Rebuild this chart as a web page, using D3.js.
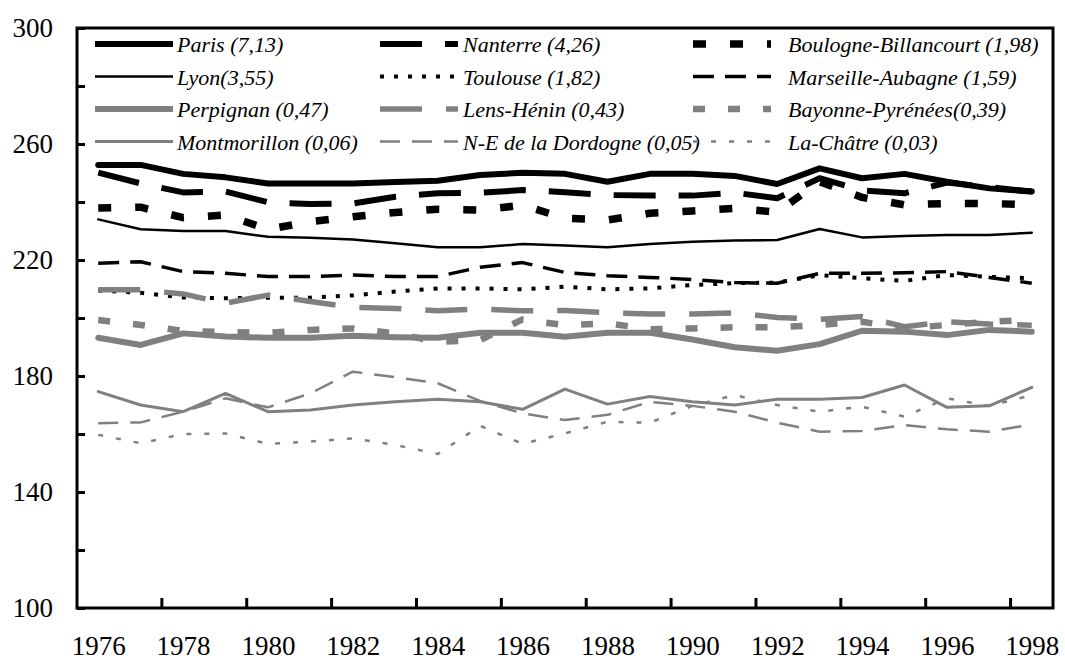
<!DOCTYPE html>
<html>
<head>
  <meta charset="UTF-8">
  <title>Indices par zone</title>
  <script src="https://d3js.org/d3.v7.min.js"></script>
</head>
<body style="margin:0;background:#fff">
<svg id="chart" width="1065" height="660"></svg>
<script>
  // years on the category axis
  const years = d3.range(1976, 1999);
  const yTicks = [100, 120, 140, 160, 180, 200, 220, 240, 260, 280, 300];

  // series, in the order of the legend
  const names = [
    'Paris (7,13)', 'Nanterre (4,26)', 'Boulogne-Billancourt (1,98)',
    'Lyon(3,55)', 'Toulouse (1,82)', 'Marseille-Aubagne (1,59)',
    'Perpignan (0,47)', 'Lens-Hénin (0,43)', 'Bayonne-Pyrénées(0,39)',
    'Montmorillon (0,06)', 'N-E de la Dordogne (0,05)', 'La-Châtre (0,03)'
  ];
  const paris = [252.8,252.8,249.7,248.5,246.4,246.4,246.4,246.9,247.3,249.3,250.1,249.7,247.0,249.7,249.7,249.0,246.2,251.6,248.2,249.7,247.0,244.7,243.6];
  const nanterre = [250.1,246.4,243.3,243.6,239.9,239.3,239.5,241.8,243.0,243.2,244.1,243.4,242.4,242.2,242.2,243.2,241.3,248.2,244.0,243.0,246.7,245.1,243.6];
  const boulogne = [237.9,238.2,234.6,235.5,230.6,233.2,234.9,236.4,237.5,237.2,238.9,234.4,233.8,236.1,236.9,237.8,236.5,247.0,241.6,239.0,239.5,239.5,239.0];
  const lyon = [234.0,230.6,230.0,230.0,228.0,227.7,227.1,225.8,224.4,224.4,225.5,225.0,224.4,225.5,226.3,226.7,226.9,230.7,227.8,228.3,228.6,228.6,229.4];
  const toulouse = [209.5,208.7,207.1,206.8,207.0,207.0,207.8,209.1,210.2,210.2,209.9,210.8,209.9,210.2,211.4,212.0,212.2,214.8,213.7,212.8,214.8,214.2,213.7];
  const marseille = [218.9,219.4,216.0,215.4,214.3,214.3,214.8,214.3,214.3,217.5,219.1,215.7,214.6,214.0,213.3,212.2,212.0,215.4,215.4,215.6,216.0,214.0,212.0];
  const perpignan = [193.2,190.7,194.7,193.6,193.2,193.2,193.9,193.4,193.2,194.9,194.9,193.5,194.9,194.9,192.6,189.9,188.7,191.0,195.6,195.3,194.1,195.9,195.3];
  const lens = [209.7,209.7,208.3,205.1,207.9,205.7,203.7,203.3,202.5,203.1,202.5,202.6,201.8,201.4,201.4,201.8,200.2,199.5,200.5,197.0,198.7,197.9,197.5];
  const bayonne = [199.3,197.6,195.5,195.2,194.9,195.9,196.4,194.7,191.8,192.4,199.5,197.5,198.2,196.1,196.4,196.8,196.8,197.6,198.7,196.4,197.6,198.7,199.3];
  const montmorillon = [174.6,170.0,167.7,174.0,167.7,168.3,170.0,171.1,172.0,171.1,168.5,175.5,170.3,172.9,171.1,170.0,172.0,172.0,172.6,176.9,169.2,169.7,176.1];
  const dordogne = [163.7,164.0,167.7,172.3,169.2,174.0,181.5,179.6,177.5,171.4,167.1,164.8,166.6,171.1,169.7,167.7,163.9,160.8,161.0,163.1,161.6,160.8,163.3];
  const lachatre = [159.7,156.8,160.0,160.2,156.6,157.4,158.5,156.2,153.1,162.8,156.6,160.2,164.2,163.9,169.7,173.4,170.0,167.7,169.4,166.0,172.3,169.7,173.4];
  const values = [paris, nanterre, boulogne, lyon, toulouse, marseille, perpignan, lens, bayonne, montmorillon, dordogne, lachatre];

  const BLACK = '#000', GREY = '#808080';
  const styles = [
    { c: BLACK, w: 6,   d: null },
    { c: BLACK, w: 6,   d: '42,23' },
    { c: BLACK, w: 7.5, d: '13,24' },
    { c: BLACK, w: 2.5, d: null },
    { c: BLACK, w: 4,   d: '4,10' },
    { c: BLACK, w: 3.5, d: '21,11' },
    { c: GREY,  w: 6,   d: null },
    { c: GREY,  w: 5.5, d: '42,24' },
    { c: GREY,  w: 6.5, d: '12,23' },
    { c: GREY,  w: 3,   d: null },
    { c: GREY,  w: 2.5, d: '20,12' },
    { c: GREY,  w: 2.5, d: '5,13' }
  ];

  const plot = { left: 77, right: 1053, top: 28, bottom: 608 };
  const svg = d3.select('#chart');

  const x = d3.scalePoint().domain(years).range([plot.left, plot.right]).padding(0.5);
  const y = d3.scaleLinear().domain([100, 300]).range([plot.bottom, plot.top]);
  const step = x.step();

  // series lines
  const line = d3.line().x((d, i) => x(years[i])).y(d => y(d));
  svg.append('g').selectAll('path')
    .data(values)
    .join('path')
    .attr('d', line)
    .attr('fill', 'none')
    .attr('stroke-linejoin', 'round')
    .attr('stroke', (d, i) => styles[i].c)
    .attr('stroke-width', (d, i) => styles[i].w)
    .attr('stroke-dasharray', (d, i) => styles[i].d)
    .attr('stroke-linecap', (d, i) => styles[i].d ? 'butt' : 'round');

  // y axis, ticks inside, labels every 40
  const yAxis = svg.append('g')
    .attr('transform', `translate(${plot.left},0)`)
    .call(d3.axisLeft(y).tickValues(yTicks).tickSize(-8).tickPadding(24)
      .tickFormat(v => (v - 100) % 40 === 0 ? v : ''));

  // x axis labels at category centres
  const xAxis = svg.append('g')
    .attr('transform', `translate(0,${plot.bottom})`)
    .call(d3.axisBottom(x).tickValues(years.filter((v, i) => i % 2 === 0)).tickSize(0).tickPadding(28));

  [yAxis, xAxis].forEach(a => {
    a.select('.domain').remove();
    a.attr('font-family', 'Liberation Serif').attr('font-size', 27);
    a.selectAll('line').attr('stroke', '#000').attr('stroke-width', 3);
    a.selectAll('text')
      .attr('fill', '#000')
      .attr('font-family', 'Liberation Serif')
      .attr('style', "font-family:'Liberation Serif';font-size:27px");
  });

  // x tick marks between categories
  svg.append('g').selectAll('line')
    .data(years.filter((v, i) => i % 2 === 0 && i > 0))
    .join('line')
    .attr('x1', d => x(d) - step / 2).attr('x2', d => x(d) - step / 2)
    .attr('y1', plot.bottom).attr('y2', plot.bottom - 10)
    .attr('stroke', '#000').attr('stroke-width', 3);

  // plot frame
  svg.append('rect')
    .attr('x', plot.left).attr('y', plot.top)
    .attr('width', plot.right - plot.left).attr('height', plot.bottom - plot.top)
    .attr('fill', 'none').attr('stroke', '#000').attr('stroke-width', 3);

  // legend, three columns filled row by row
  const colX = [95, 380, 693];
  const textX = [177, 463, 788];
  const lg = svg.append('g');
  names.forEach((name, i) => {
    const col = i % 3, row = Math.floor(i / 3);
    const ry = 44 + row * 32.5;
    const s = styles[i];
    lg.append('line')
      .attr('x1', colX[col]).attr('x2', colX[col] + 78)
      .attr('y1', ry).attr('y2', ry)
      .attr('stroke', s.c).attr('stroke-width', s.w)
      .attr('stroke-dasharray', s.d);
    lg.append('text')
      .attr('x', textX[col]).attr('y', ry + 8)
      .attr('font-family', 'Liberation Serif')
      .attr('style', "font-family:'Liberation Serif';font-style:italic;font-size:22px")
      .text(name);
  });
</script>
</body>
</html>
